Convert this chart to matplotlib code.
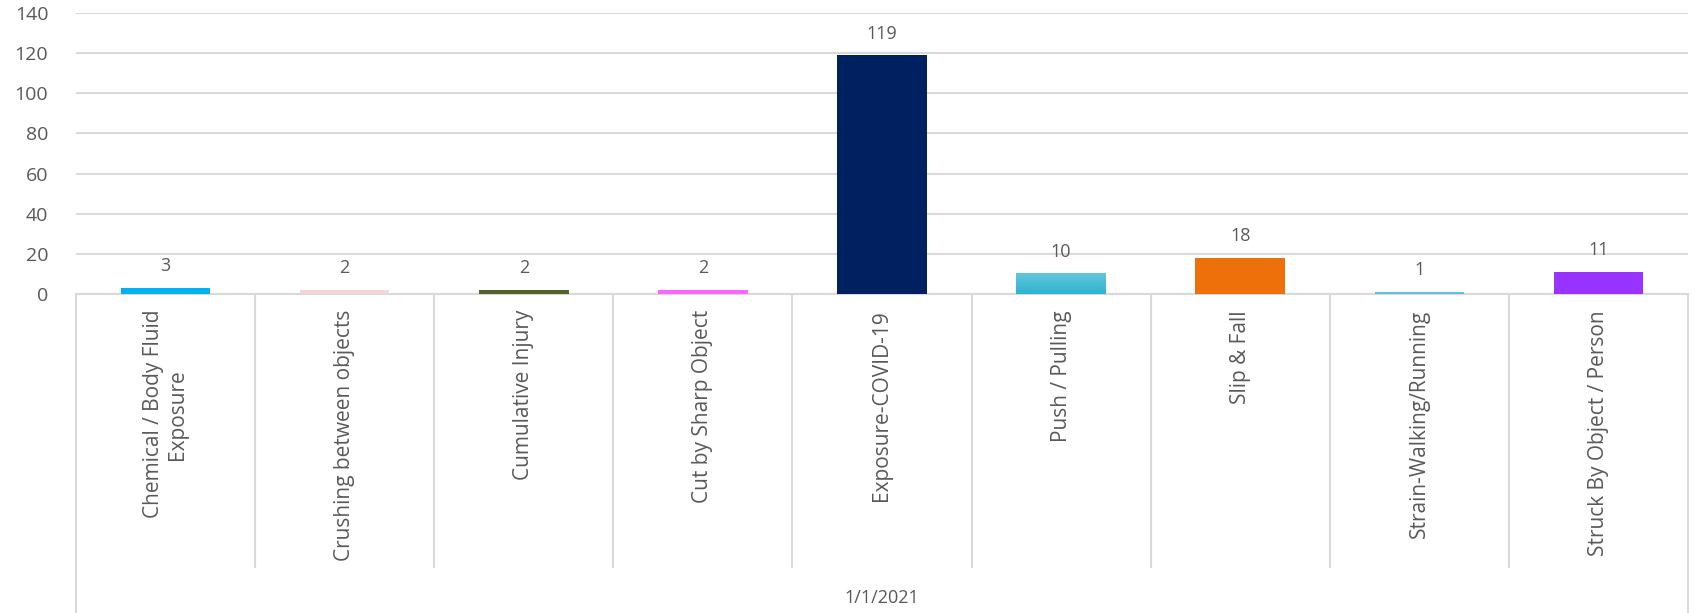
import matplotlib.pyplot as plt
import matplotlib.transforms as mtransforms
from matplotlib.colors import LinearSegmentedColormap
import numpy as np

plt.rcParams['font.family'] = ['Open Sans', 'DejaVu Sans']

categories = ["Chemical / Body Fluid\nExposure", "Crushing between objects",
              "Cumulative Injury", "Cut by Sharp Object", "Exposure-COVID-19",
              "Push / Pulling", "Slip & Fall", "Strain-Walking/Running",
              "Struck By Object / Person"]
counts = [3, 2, 2, 2, 119, 10, 18, 1, 11]
colors = ["#00B0F0", "#F4D6D6", "#4F6228", "#FF66FF", "#002060",
          "#45BDD6", "#EE700B", "#5BC4DA", "#9933FF"]
date_label = "1/1/2021"

text_color = "#595959"
grid_color = "#D9D9D9"

fig = plt.figure(figsize=(16.95, 6.13), dpi=100)
ax = fig.add_axes([76 / 1695, 1 - 294 / 613, (1688 - 76) / 1695, (294 - 13) / 613])

x = np.arange(len(categories))
bars = ax.bar(x, counts, width=0.5, color=colors, zorder=3)

# soft vertical gradient on the Push / Pulling bar
push = bars[5]
px, py = push.get_x(), push.get_y()
grad = np.linspace(0, 1, 100).reshape(-1, 1)
cmap = LinearSegmentedColormap.from_list("push", ["#2DB3D0", "#63C6DC"])
push.set_facecolor("none")
ax.imshow(grad, cmap=cmap, origin="lower", aspect="auto", zorder=3,
          extent=[px, px + push.get_width(), py, py + push.get_height()])

for b, v in zip(bars, counts):
    ax.annotate(str(v), (b.get_x() + b.get_width() / 2, v),
                xytext=(0, 9), textcoords="offset points",
                ha="center", va="bottom", fontsize=13, color=text_color)

ax.set_xlim(-0.5, len(categories) - 0.5)
ax.set_ylim(0, 140)
ax.set_yticks(np.arange(0, 141, 20))
ax.tick_params(axis="y", length=0, pad=20, labelsize=14, labelcolor=text_color)
ax.tick_params(axis="x", length=0, bottom=False, labelbottom=False)
ax.yaxis.grid(True, color=grid_color, linewidth=1.5, zorder=0)
for s in ["top", "right", "left"]:
    ax.spines[s].set_visible(False)
ax.spines["bottom"].set_color(grid_color)
ax.spines["bottom"].set_linewidth(1.5)

# category labels and separators below the axis
trans = mtransforms.blended_transform_factory(ax.transData, fig.transFigure)
y_axis = 1 - 294 / 613
y_inner = 1 - 567 / 613
for i, lab in enumerate(categories):
    fig.text(i, 1 - 310 / 613, lab, transform=trans, rotation=90,
             ha="center", va="top", multialignment="center",
             fontsize=15, color=text_color)
for k in range(len(categories) + 1):
    bottom = 0 if k in (0, len(categories)) else y_inner
    fig.add_artist(plt.Line2D([k - 0.5, k - 0.5], [y_axis, bottom], transform=trans,
                              color=grid_color, linewidth=1.5))

fig.text(4, 1 - 598 / 613, date_label, transform=trans, ha="center", va="center",
         fontsize=13, color=text_color)

fig.savefig("out.png", dpi=100, facecolor="white")
